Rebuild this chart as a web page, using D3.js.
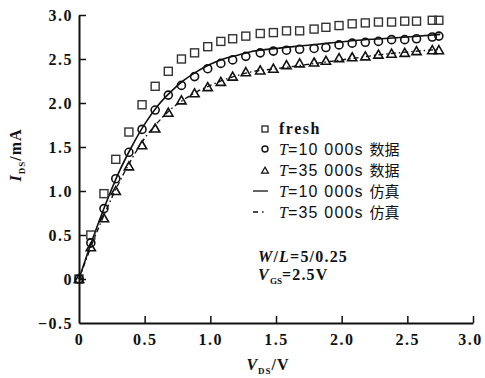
<!DOCTYPE html>
<html>
<head>
<meta charset="utf-8">
<script src="https://cdn.jsdelivr.net/npm/d3@7"></script>
<style>
  body { margin: 0; background: #fff; }
  svg { display: block; }
</style>
</head>
<body>
<script>
// measured points (V_DS in V, I_DS in mA)
const vds_points = [0, 0.09, 0.19, 0.28, 0.38, 0.48, 0.58, 0.68, 0.78, 0.88, 0.98, 1.08, 1.17, 1.27,
    1.38, 1.48, 1.58, 1.68, 1.79, 1.88, 1.98, 2.08, 2.18, 2.28, 2.38, 2.48, 2.57, 2.69, 2.74];
const ids_fresh = [0, 0.50, 0.97, 1.36, 1.67, 1.98, 2.19, 2.36, 2.50, 2.57, 2.64, 2.70, 2.73, 2.76,
    2.79, 2.80, 2.82, 2.82, 2.84, 2.86, 2.88, 2.90, 2.91, 2.92, 2.92, 2.93, 2.93, 2.94, 2.94];
const ids_t10000 = [0, 0.41, 0.80, 1.14, 1.44, 1.70, 1.92, 2.09, 2.20, 2.30, 2.39, 2.45, 2.49, 2.53,
    2.57, 2.59, 2.60, 2.61, 2.62, 2.63, 2.66, 2.68, 2.69, 2.70, 2.72, 2.72, 2.73, 2.75, 2.76];
const ids_t35000 = [0, 0.36, 0.69, 1.00, 1.28, 1.52, 1.71, 1.89, 2.03, 2.11, 2.18, 2.24, 2.30, 2.35,
    2.37, 2.39, 2.43, 2.45, 2.46, 2.48, 2.51, 2.52, 2.53, 2.55, 2.56, 2.57, 2.59, 2.60, 2.60];

// simulated curves
const vds_sim = [0, 0.1, 0.2, 0.3, 0.4, 0.5, 0.6, 0.7, 0.8, 0.9, 1.0, 1.1, 1.2, 1.3, 1.5, 1.7, 1.9, 2.1, 2.3, 2.5, 2.75];
const sim_t10000 = [0, 0.44, 0.84, 1.20, 1.50, 1.76, 1.97, 2.13, 2.26, 2.36, 2.44, 2.50, 2.54, 2.58,
    2.62, 2.65, 2.68, 2.71, 2.73, 2.75, 2.78];
const sim_t35000 = [0, 0.40, 0.76, 1.08, 1.36, 1.60, 1.78, 1.93, 2.04, 2.13, 2.20, 2.26, 2.31, 2.35,
    2.39, 2.43, 2.47, 2.51, 2.55, 2.58, 2.61];

const x_ticks = [0, 0.5, 1.0, 1.5, 2.0, 2.5, 3.0];
const y_ticks = [-0.5, 0, 0.5, 1.0, 1.5, 2.0, 2.5, 3.0];
const x_tick_labels = ['0', '0.5', '1.0', '1.5', '2.0', '2.5', '3.0'];
const y_tick_labels = ['\u22120.5', '0', '0.5', '1.0', '1.5', '2.0', '2.5', '3.0'];

const legend_items = [
    {kind: 'square', t: null, label: 'fresh'},
    {kind: 'circle', t: '=10 000s ', label: '数据'},
    {kind: 'triangle', t: '=35 000s ', label: '数据'},
    {kind: 'solid', t: '=10 000s ', label: '仿真'},
    {kind: 'dashdot', t: '=35 000s ', label: '仿真'}
];

const svgWidth = 485;
const svgHeight = 378;
const margin = {top: 15, right: 12, bottom: 55, left: 79};
const chartWidth = 394;
const chartHeight = 308;

const ink = '#111';
const serif = '"Liberation Serif", "DejaVu Serif", serif';
const cjk = '"Noto Sans CJK SC", sans-serif';
const dashdot = '5,3,1.5,3';

const triangle_path = 'M0,-4.5L4.6,3.5L-4.6,3.5Z';

window.onload = main;

function main() {
    const svg = d3.select('body').append('svg')
        .attr('width', svgWidth)
        .attr('height', svgHeight);

    const g = svg.append('g')
        .attr('transform', `translate(${margin.left}, ${margin.top})`);

    const scaleX = d3.scaleLinear().domain([0, 3]).range([0, chartWidth]);
    const scaleY = d3.scaleLinear().domain([-0.5, 3]).range([chartHeight, 0]);

    drawAxes(g, scaleX, scaleY);
    drawCurves(g, scaleX, scaleY);
    drawMarkers(g, scaleX, scaleY);
    drawLegend(svg);
    drawLabels(svg);
}

function styleTickText(sel) {
    sel.attr('fill', ink)
        .style('font-family', serif)
        .style('font-size', '16px')
        .style('font-weight', 'bold')
        .style('letter-spacing', '1.5px');
}

function drawAxes(g, scaleX, scaleY) {
    // x axis, ticks pointing up into the plot
    const ax = g.append('g')
        .attr('transform', `translate(0, ${chartHeight})`)
        .call(d3.axisBottom(scaleX).tickValues(x_ticks).tickSizeInner(-7).tickSizeOuter(0)
            .tickFormat((d, i) => x_tick_labels[i]));
    ax.select('.domain').attr('stroke', ink).attr('stroke-width', 2);
    ax.selectAll('.tick line').attr('stroke', ink).attr('stroke-width', 1.5);
    ax.selectAll('.tick').filter(d => d === 0).select('line').remove();
    ax.selectAll('.tick text')
        .attr('y', 11)
        .attr('dy', '0.71em')
        .call(styleTickText);
    ax.selectAll('.tick').filter(d => d === 3).select('text').attr('dx', -3);

    // y axis, ticks pointing right
    const ay = g.append('g')
        .call(d3.axisLeft(scaleY).tickValues(y_ticks).tickSizeInner(-7).tickSizeOuter(0)
            .tickFormat((d, i) => y_tick_labels[i]));
    ay.select('.domain').attr('stroke', ink).attr('stroke-width', 2);
    ay.selectAll('.tick line').attr('stroke', ink).attr('stroke-width', 1.5);
    ay.selectAll('.tick').filter(d => d === -0.5).select('line').remove();
    ay.selectAll('.tick text')
        .attr('x', -6)
        .call(styleTickText);
}

function drawCurves(g, scaleX, scaleY) {
    const line = d3.line()
        .x(d => scaleX(d[0]))
        .y(d => scaleY(d[1]))
        .curve(d3.curveMonotoneX);

    g.append('path')
        .datum(d3.zip(vds_sim, sim_t10000))
        .attr('fill', 'none')
        .attr('stroke', ink)
        .attr('stroke-width', 1.6)
        .attr('d', line);

    g.append('path')
        .datum(d3.zip(vds_sim, sim_t35000))
        .attr('fill', 'none')
        .attr('stroke', ink)
        .attr('stroke-width', 1.4)
        .attr('stroke-dasharray', dashdot)
        .attr('d', line);
}

function drawMarkers(g, scaleX, scaleY) {
    g.selectAll('rect.fresh')
        .data(d3.zip(vds_points, ids_fresh))
        .join('rect')
        .attr('class', 'fresh')
        .attr('x', d => scaleX(d[0]) - 4)
        .attr('y', d => scaleY(d[1]) - 4)
        .attr('width', 8)
        .attr('height', 8)
        .attr('fill', 'none')
        .attr('stroke', '#333')
        .attr('stroke-width', 1.4);

    g.selectAll('circle.t10')
        .data(d3.zip(vds_points, ids_t10000))
        .join('circle')
        .attr('class', 't10')
        .attr('cx', d => scaleX(d[0]))
        .attr('cy', d => scaleY(d[1]))
        .attr('r', 4)
        .attr('fill', 'none')
        .attr('stroke', ink)
        .attr('stroke-width', 1.6);

    g.selectAll('path.t35')
        .data(d3.zip(vds_points, ids_t35000))
        .join('path')
        .attr('class', 't35')
        .attr('transform', d => `translate(${scaleX(d[0])}, ${scaleY(d[1])})`)
        .attr('d', triangle_path)
        .attr('fill', 'none')
        .attr('stroke', ink)
        .attr('stroke-width', 1.6);
}

function drawLegend(svg) {
    const row_y = d3.scaleLinear().domain([0, 4]).range([128, 212]);
    const mx = 265;

    const rows = svg.selectAll('g.legend')
        .data(legend_items)
        .join('g')
        .attr('class', 'legend')
        .attr('transform', (d, i) => `translate(0, ${row_y(i)})`);

    rows.each(function (d) {
        const r = d3.select(this);
        if (d.kind === 'square') {
            r.append('rect').attr('x', mx - 3).attr('y', -2).attr('width', 6).attr('height', 6)
                .attr('fill', 'none').attr('stroke', ink).attr('stroke-width', 1.2);
        } else if (d.kind === 'circle') {
            r.append('circle').attr('cx', mx).attr('cy', 0).attr('r', 3)
                .attr('fill', 'none').attr('stroke', ink).attr('stroke-width', 1.4);
        } else if (d.kind === 'triangle') {
            r.append('path').attr('transform', `translate(${mx}, 0.5) scale(0.75)`).attr('d', triangle_path)
                .attr('fill', 'none').attr('stroke', ink).attr('stroke-width', 1.6);
        } else {
            r.append('line').attr('x1', 253).attr('x2', 268).attr('y1', 0).attr('y2', 0)
                .attr('stroke', ink).attr('stroke-width', 1.3)
                .attr('stroke-dasharray', d.kind === 'dashdot' ? '5,4,1.5,10' : null);
        }

        const t = r.append('text')
            .attr('x', 279)
            .attr('y', 6)
            .attr('fill', ink)
            .style('font-size', '16px')
            .style('font-family', serif)
            .style('font-weight', 'bold');
        if (d.t === null) {
            t.append('tspan').style('letter-spacing', '1.5px').text(d.label);
        } else {
            t.append('tspan').style('font-style', 'italic').style('font-weight', 'normal').text('T');
            t.append('tspan').style('font-family', '"Liberation Sans", sans-serif').style('font-weight', 'normal')
                .style('letter-spacing', '1.2px').text(d.t);
            t.append('tspan').style('font-family', cjk).style('font-size', '15px')
                .style('font-weight', 'normal').text(d.label);
        }
    });
}

function drawLabels(svg) {
    // W/L and V_GS notes
    const wl = svg.append('text')
        .attr('x', 258).attr('y', 262)
        .attr('fill', ink)
        .style('font-family', serif).style('font-size', '16px').style('font-weight', 'bold')
        .style('letter-spacing', '1.2px');
    wl.append('tspan').style('font-style', 'italic').text('W');
    wl.append('tspan').text('/');
    wl.append('tspan').style('font-style', 'italic').text('L');
    wl.append('tspan').text('=5/0.25');

    const vgs = svg.append('text')
        .attr('x', 258).attr('y', 280)
        .attr('fill', ink)
        .style('font-family', serif).style('font-size', '16px').style('font-weight', 'bold')
        .style('letter-spacing', '1.2px');
    vgs.append('tspan').style('font-style', 'italic').text('V');
    vgs.append('tspan').attr('dy', 4).style('font-size', '9px').style('letter-spacing', '0').text('GS');
    vgs.append('tspan').attr('dy', -4).text('=2.5V');

    // x axis title
    const xt = svg.append('text')
        .attr('x', 268).attr('y', 370)
        .attr('text-anchor', 'middle')
        .attr('fill', ink)
        .style('font-family', serif).style('font-size', '16px').style('font-weight', 'bold')
        .style('letter-spacing', '1px');
    xt.append('tspan').style('font-style', 'italic').text('V');
    xt.append('tspan').attr('dy', 4).style('font-size', '9px').text('DS');
    xt.append('tspan').attr('dy', -4).text('/V');

    // y axis title, rotated
    const yt = svg.append('text')
        .attr('transform', 'translate(21, 155) rotate(-90)')
        .attr('text-anchor', 'middle')
        .attr('fill', ink)
        .style('font-family', serif).style('font-size', '16px').style('font-weight', 'bold')
        .style('letter-spacing', '1px');
    yt.append('tspan').style('font-style', 'italic').text('I');
    yt.append('tspan').attr('dy', 4).style('font-size', '9px').text('DS');
    yt.append('tspan').attr('dy', -4).text('/mA');
}
</script>
</body>
</html>
